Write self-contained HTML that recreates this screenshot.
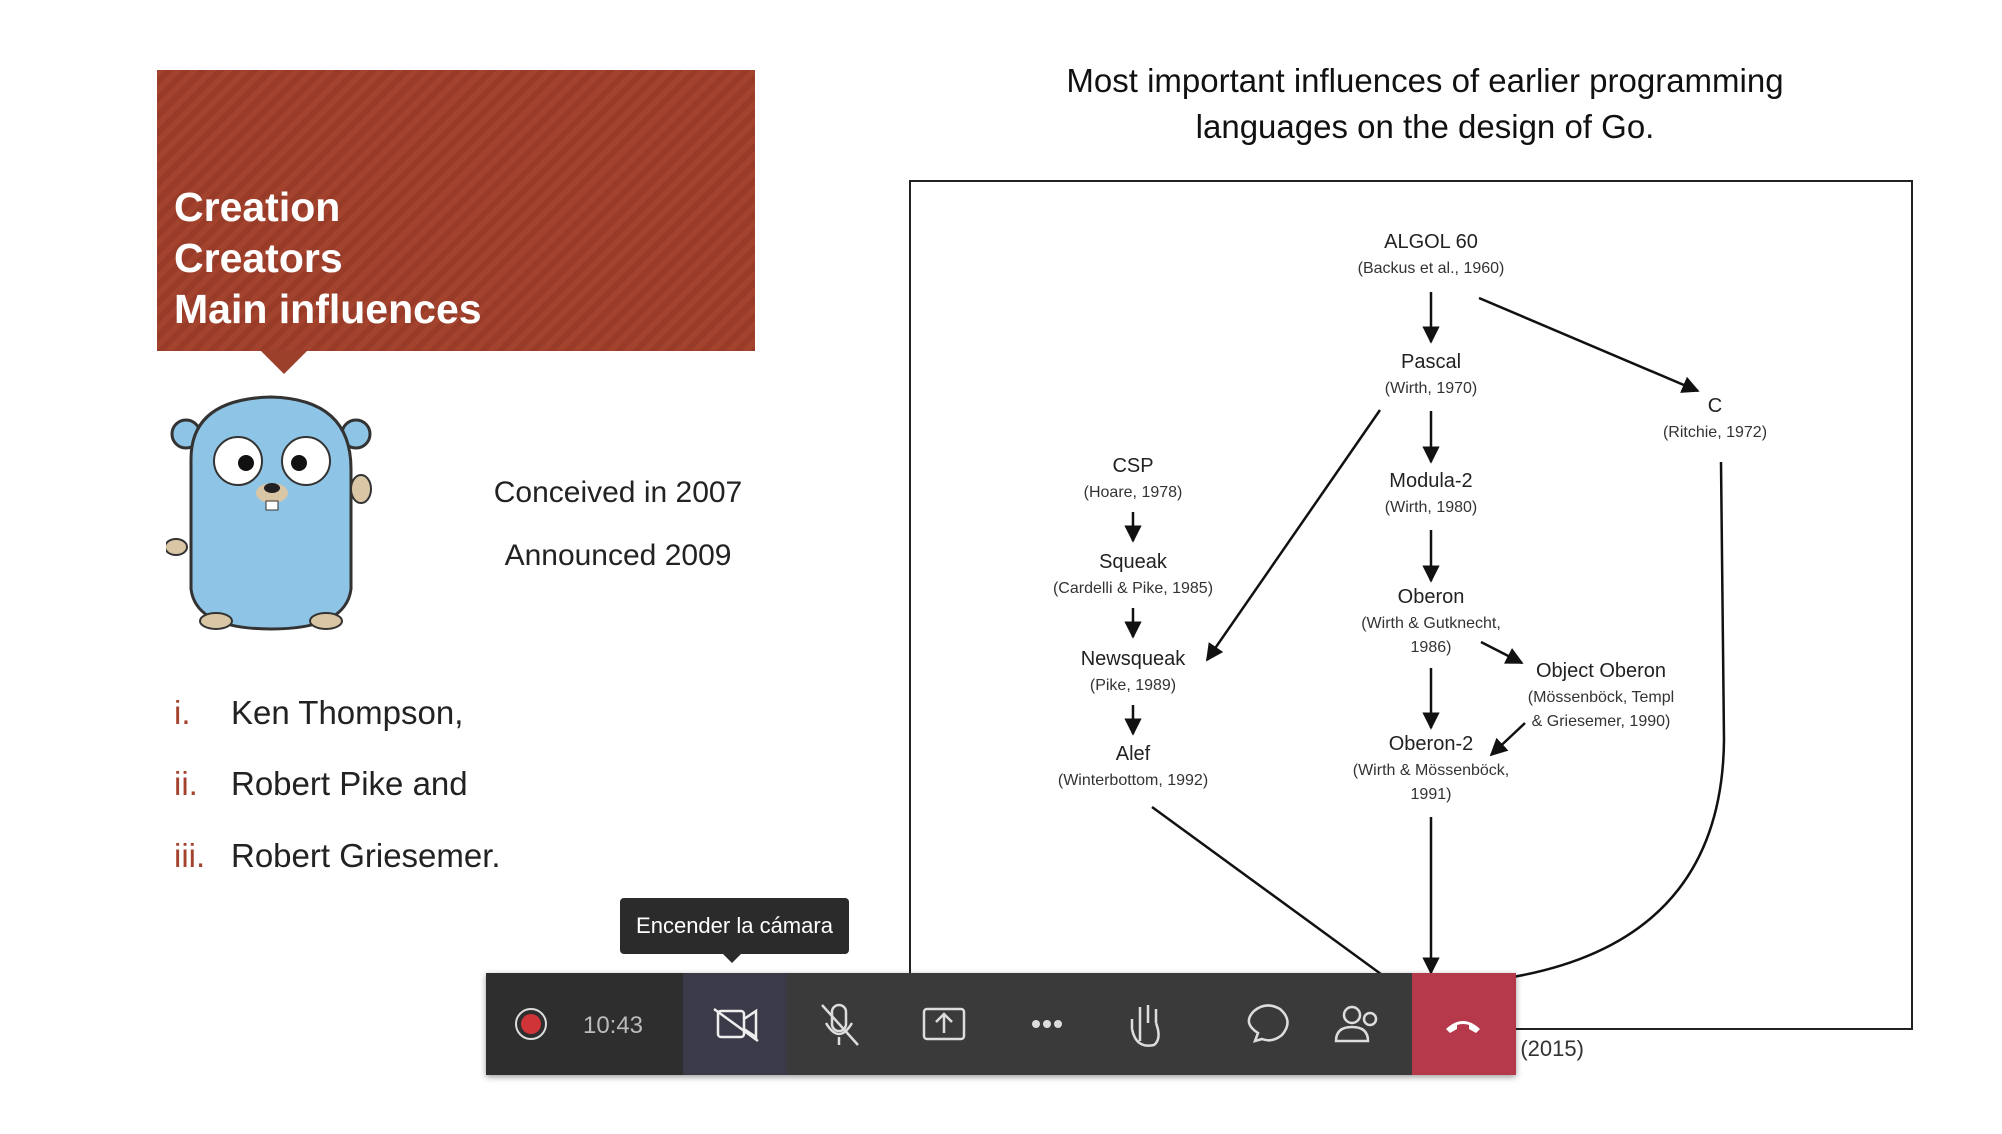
<!DOCTYPE html>
<html><head><meta charset="utf-8">
<style>
html,body{margin:0;padding:0;background:#fff;}
body{width:2002px;height:1134px;position:relative;overflow:hidden;font-family:"Liberation Sans",sans-serif;}
.abs{position:absolute;}
#redbox{left:157px;top:70px;width:598px;height:281px;background:repeating-linear-gradient(135deg,#a3432e 0 6px,#983c29 6px 12px);}
#redbox .t{position:absolute;left:17px;color:#fff;font-weight:bold;font-size:41px;line-height:51px;}
.ptr{left:260px;top:350px;width:0;height:0;border-left:24px solid transparent;border-right:24px solid transparent;border-top:24px solid #9c3f2b;}
.cent{color:#222;font-size:30px;text-align:center;width:500px;}
.li{font-size:33px;color:#222;}
.li span{color:#a3432e;display:inline-block;width:57px;}
#title{left:960px;top:58px;width:930px;text-align:center;font-size:33px;line-height:46px;color:#111;}
#diag{left:909px;top:180px;width:1000px;height:846px;border:2px solid #222;background:#fff;}
#toolbar{left:486px;top:973px;width:1030px;height:102px;background:#3a3a3a;box-shadow:0 2px 6px rgba(0,0,0,.4);}
#tip{left:620px;top:898px;width:229px;height:56px;background:#2b2b2b;border-radius:4px;color:#fff;font-size:22px;line-height:56px;text-align:center;}
</style></head><body>
<div id="redbox" class="abs">
 <div class="t" style="top:112px">Creation</div>
 <div class="t" style="top:163px">Creators</div>
 <div class="t" style="top:214px">Main influences</div>
</div>
<div class="abs ptr"></div>

<svg class="abs" style="left:166px;top:389px" width="215" height="245" viewBox="0 0 215 245">
 <ellipse cx="20" cy="45" rx="14" ry="14" fill="#8ec5e6" stroke="#333" stroke-width="3"/>
 <ellipse cx="190" cy="45" rx="14" ry="14" fill="#8ec5e6" stroke="#333" stroke-width="3"/>
 <path d="M25 70 Q25 10 105 8 Q185 10 185 80 L185 200 Q180 240 105 240 Q30 240 25 200 Z" fill="#8ec5e6" stroke="#333" stroke-width="3"/>
 <ellipse cx="10" cy="158" rx="11" ry="8" fill="#d9c6a5" stroke="#333" stroke-width="2"/>
 <ellipse cx="195" cy="100" rx="10" ry="14" fill="#d9c6a5" stroke="#333" stroke-width="2"/>
 <ellipse cx="50" cy="232" rx="16" ry="8" fill="#d9c6a5" stroke="#333" stroke-width="2"/>
 <ellipse cx="160" cy="232" rx="16" ry="8" fill="#d9c6a5" stroke="#333" stroke-width="2"/>
 <circle cx="72" cy="72" r="24" fill="#fff" stroke="#333" stroke-width="2"/>
 <circle cx="140" cy="72" r="24" fill="#fff" stroke="#333" stroke-width="2"/>
 <circle cx="80" cy="74" r="8" fill="#111"/><circle cx="133" cy="74" r="8" fill="#111"/>
 <ellipse cx="106" cy="104" rx="16" ry="10" fill="#d9c6a5"/>
 <ellipse cx="106" cy="99" rx="8" ry="5" fill="#222"/>
 <rect x="100" y="112" width="12" height="9" fill="#fff" stroke="#333"/>
</svg>

<div class="abs cent" style="left:368px;top:476px">Conceived in 2007</div>
<div class="abs cent" style="left:368px;top:539px">Announced 2009</div>
<div class="abs li" style="left:174px;top:694px"><span>i.</span>Ken Thompson,</div>
<div class="abs li" style="left:174px;top:765px"><span>ii.</span>Robert Pike and</div>
<div class="abs li" style="left:174px;top:837px"><span>iii.</span>Robert Griesemer.</div>

<div id="title" class="abs">Most important influences of earlier programming<br>languages on the design of Go.</div>

<div id="diag" class="abs"></div>
<svg id="dsvg" class="abs" style="left:0;top:0" width="2002" height="1134">
 <defs><marker id="ah" viewBox="0 0 10 10" refX="9" refY="5" markerWidth="7" markerHeight="7" orient="auto"><path d="M0 0 L10 5 L0 10 z" fill="#111"/></marker></defs>
</svg>
<div class="abs" style="left:1195px;top:1036px;font-size:22px;color:#333">Source: Donovan and Kernighan (2015)</div>

<div id="toolbar" class="abs">
 <div class="abs" style="left:0;top:0;width:197px;height:102px;background:#2e2e2e"></div>
 <div class="abs" style="left:197px;top:0;width:104px;height:102px;background:#3b3a48"></div>
 <div class="abs" style="left:926px;top:0;width:104px;height:102px;background:#b5394b"></div>
 <svg class="abs" style="left:0;top:0" width="1030" height="102">
  <circle cx="45" cy="51" r="15" fill="none" stroke="#ddd" stroke-width="2"/><circle cx="45" cy="51" r="10" fill="#d13438"/>
  <text x="127" y="60" font-size="24" fill="#bbb" text-anchor="middle" font-family="Liberation Sans">10:43</text>
  <rect x="232" y="38" width="26" height="26" rx="3" fill="none" stroke="#eee" stroke-width="2.5"/><path d="M258 46 L270 38 L270 64 L258 56" fill="none" stroke="#eee" stroke-width="2.5"/><line x1="228" y1="36" x2="272" y2="68" stroke="#eee" stroke-width="2.5"/>
  <rect x="346" y="32" width="14" height="26" rx="7" fill="none" stroke="#ddd" stroke-width="2.5"/><path d="M340 50 Q353 72 366 50 M353 64 L353 72" fill="none" stroke="#ddd" stroke-width="2.5"/><line x1="336" y1="32" x2="372" y2="72" stroke="#ddd" stroke-width="2.5"/>
  <rect x="438" y="36" width="40" height="30" rx="3" fill="none" stroke="#ddd" stroke-width="2.5"/><path d="M458 60 L458 42 M450 49 L458 41 L466 49" fill="none" stroke="#ddd" stroke-width="2.5"/>
  <circle cx="550" cy="51" r="4" fill="#ddd"/><circle cx="561" cy="51" r="4" fill="#ddd"/><circle cx="572" cy="51" r="4" fill="#ddd"/>
  <path d="M654 68 L654 40 M654 50 L654 34 M662 50 L662 32 M670 50 L670 36 M646 56 L646 46 M646 56 Q650 76 668 72 Q676 66 670 50" fill="none" stroke="#ddd" stroke-width="2.5"/>
  <path d="M769 68 L772 60 Q756 50 768 38 Q780 28 794 36 Q808 48 796 62 Q786 70 776 66 Z" fill="none" stroke="#ddd" stroke-width="2.5"/>
  <circle cx="866" cy="42" r="8" fill="none" stroke="#ddd" stroke-width="2.5"/><path d="M850 68 Q850 54 866 54 Q882 54 882 68 Z" fill="none" stroke="#ddd" stroke-width="2.5"/><circle cx="884" cy="46" r="6" fill="none" stroke="#ddd" stroke-width="2.5"/>
  <path d="M960 56 Q977 40 994 56 L990 60 L983 56 L983 52 Q977 50 971 52 L971 56 L964 60 Z" fill="#fff"/>
 </svg>
</div>
<div id="tip" class="abs">Encender la cámara</div>
<div class="abs" style="left:722px;top:953px;width:0;height:0;border-left:10px solid transparent;border-right:10px solid transparent;border-top:10px solid #2b2b2b"></div>

<script>
const nodeNames=["ALGOL 60","Pascal","C","Modula-2","CSP","Squeak","Newsqueak","Alef","Oberon","Object Oberon","Oberon-2"];
const nodeCites=[["(Backus et al., 1960)"],["(Wirth, 1970)"],["(Ritchie, 1972)"],["(Wirth, 1980)"],["(Hoare, 1978)"],["(Cardelli & Pike, 1985)"],["(Pike, 1989)"],["(Winterbottom, 1992)"],["(Wirth & Gutknecht,","1986)"],["(Mössenböck, Templ","& Griesemer, 1990)"],["(Wirth & Mössenböck,","1991)"]];
const nodeX=[1431,1431,1715,1431,1133,1133,1133,1133,1431,1601,1431];
const nodeY=[241,361,405,480,465,561,658,753,596,670,743];
const edgesFrom=[[1431,292],[1479,298],[1431,411],[1380,410],[1431,530],[1133,512],[1133,608],[1133,705],[1481,642],[1431,668],[1525,723],[1152,807],[1431,817]];
const edgesTo=[[1431,342],[1698,391],[1431,462],[1207,660],[1431,581],[1133,541],[1133,637],[1133,734],[1522,663],[1431,728],[1491,755],[1411,996],[1431,973]];
const svg=document.getElementById('dsvg');
const NS='http://www.w3.org/2000/svg';
nodeNames.forEach((n,i)=>{
 const t=document.createElementNS(NS,'text');
 
 
 t.setAttribute('x',nodeX[i]);t.setAttribute('y',nodeY[i]+7);
 t.setAttribute('text-anchor','middle');t.setAttribute('font-size','20');t.setAttribute('fill','#222');
 t.setAttribute('font-family','Liberation Sans');t.textContent=n;svg.appendChild(t);
 nodeCites[i].forEach((c,j)=>{
  const s=document.createElementNS(NS,'text');
  
  
  s.setAttribute('x',nodeX[i]);s.setAttribute('y',nodeY[i]+32+j*24);
  s.setAttribute('text-anchor','middle');s.setAttribute('font-size','16');s.setAttribute('fill','#333');
  s.setAttribute('font-family','Liberation Sans');s.textContent=c;svg.appendChild(s);
 });
});
edgesFrom.forEach((f,i)=>{
 const l=document.createElementNS(NS,'line');
 
 
 l.setAttribute('x1',f[0]);l.setAttribute('y1',f[1]);l.setAttribute('x2',edgesTo[i][0]);l.setAttribute('y2',edgesTo[i][1]);
 l.setAttribute('stroke','#111');l.setAttribute('stroke-width','2.5');l.setAttribute('marker-end','url(#ah)');
 svg.appendChild(l);
});
const cp=document.createElementNS(NS,'path');


cp.setAttribute('d','M1721 462 L1724 740 Q1722 940 1513 977');
cp.setAttribute('fill','none');cp.setAttribute('stroke','#111');cp.setAttribute('stroke-width','2.5');
svg.appendChild(cp);
</script>
</body></html>
